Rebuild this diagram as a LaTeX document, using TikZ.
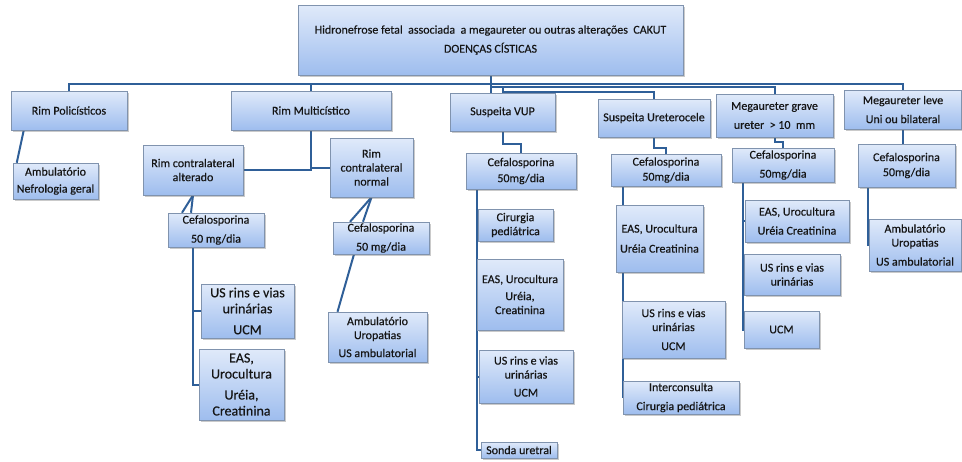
\documentclass[tikz,border=0pt]{standalone}
\usepackage{fontspec}
\setmainfont{Carlito}
\newfontfamily\boxfont[FakeBold=0.35]{Carlito}
\usetikzlibrary{shadows,calc}
\pgfdeclarelayer{background}
\pgfsetlayers{background,main}
\definecolor{boxtop}{HTML}{E0EAFA}
\definecolor{boxbot}{HTML}{9EBDEE}
\definecolor{boxline}{HTML}{8093AE}
\definecolor{conncol}{HTML}{2F5F98}
\definecolor{txt}{HTML}{151515}
\tikzset{
  box/.style={draw=boxline, line width=0.5pt, top color=boxtop, bottom color=boxbot,
    inner sep=0pt, align=center, text=txt, font=\boxfont\fontsize{12}{14}\selectfont,
    drop shadow={shadow xshift=1.5pt, shadow yshift=-1.5pt, opacity=0.35, fill=black!60}},
  bigbox/.style={box, font=\boxfont\fontsize{14}{16}\selectfont},
  conn/.style={draw=conncol, line width=2pt}
}
\begin{document}
\begin{tikzpicture}[x=1pt,y=-1pt]
\useasboundingbox (0,0) rectangle (962,461);
% level 0
\node[box, minimum width=385, minimum height=70] (top) at (490.5,40) {Hidronefrose fetal\ \ associada\ \ a megaureter ou outras alterações\ \ CAKUT\\[5pt]DOENÇAS CÍSTICAS};
% level 1
\node[box, minimum width=116, minimum height=39] (poly) at (69,110.5) {Rim Policísticos};
\node[box, minimum width=160, minimum height=39] (multi) at (311,110.5) {Rim Multicístico};
\node[box, minimum width=105, minimum height=38] (vup) at (502.5,112) {Suspeita VUP};
\node[box, minimum width=112, minimum height=38] (urc) at (654,118) {Suspeita Ureterocele};
\node[box, minimum width=117, minimum height=43] (grave) at (774.5,115.5) {Megaureter grave\\[5pt]ureter\ \ > 10\ \ mm};
\node[box, minimum width=117, minimum height=39] (leve) at (903,109.5) {Megaureter leve\\[5pt]Uni ou bilateral};
% column Rim Policisticos
\node[box, minimum width=85, minimum height=36] (amb1) at (55.5,181) {Ambulatório\\[3pt]Nefrologia geral};
% column Rim Multicistico
\node[box, minimum width=100, minimum height=50] (alt) at (193,170) {Rim contralateral\\alterado};
\node[box, minimum width=83, minimum height=59] (norm) at (371.5,167.5) {Rim\\contralateral\\normal};
\node[box, minimum width=96, minimum height=34] (cefL) at (216,230) {Cefalosporina\\[5pt]50 mg/dia};
\node[box, minimum width=96, minimum height=32] (cefM) at (381,238) {Cefalosporina\\[5pt]50 mg/dia};
\node[bigbox, minimum width=93, minimum height=54] (usL) at (247.5,311) {US rins e vias\\urinárias\\[5pt]UCM};
\node[bigbox, minimum width=85, minimum height=71] (easL) at (241.5,384.5) {EAS,\\Urocultura\\[5pt]Uréia,\\Creatinina};
\node[box, minimum width=99, minimum height=50] (ambM) at (377.5,337) {Ambulatório\\Uropatias\\[4pt]US ambulatorial};
% column VUP
\node[box, minimum width=110, minimum height=36] (cefV) at (521,171) {Cefalosporina\\[2pt]50mg/dia};
\node[box, minimum width=75, minimum height=32] (cir) at (515.5,225) {Cirurgia\\pediátrica};
\node[box, minimum width=86, minimum height=71] (easV) at (520,294.5) {EAS, Urocultura\\[3pt]Uréia,\\Creatinina};
\node[box, minimum width=94, minimum height=53] (usV) at (526,376.5) {US rins e vias\\urinárias\\[4pt]UCM};
\node[box, minimum width=76, minimum height=16] (sonda) at (519,450) {Sonda uretral};
% column Ureterocele
\node[box, minimum width=110, minimum height=32] (cefU) at (666,170) {Cefalosporina\\[1pt]50mg/dia};
\node[box, minimum width=87, minimum height=67] (easU) at (659.5,238.5) {EAS, Urocultura\\[6pt]Uréia Creatinina};
\node[box, minimum width=103, minimum height=57] (usU) at (673.5,329.5) {US rins e vias\\urinárias\\[5pt]UCM};
\node[box, minimum width=116, minimum height=33] (inter) at (681,397.5) {Interconsulta\\[5pt]Cirurgia pediátrica};
% column Megaureter grave
\node[box, minimum width=102, minimum height=34] (cefG) at (783,165) {Cefalosporina\\[5pt]50mg/dia};
\node[box, minimum width=104, minimum height=42] (easG) at (797,221) {EAS, Urocultura\\[5pt]Uréia Creatinina};
\node[box, minimum width=96, minimum height=41] (usG) at (792,274.5) {US rins e vias\\urinárias};
\node[box, minimum width=75, minimum height=37] (ucmG) at (781.5,329.5) {UCM};
% column Megaureter leve
\node[box, minimum width=97, minimum height=43] (cefLv) at (906.5,165.5) {Cefalosporina\\[1pt]50mg/dia};
\node[box, minimum width=92, minimum height=52] (ambLv) at (915,245) {Ambulatório\\Uropatias\\[5pt]US ambulatorial};
% connectors
\begin{pgfonlayer}{background}
\draw[conn] (top.south) -- ++(0,9) -| (poly.north);
\draw[conn] (top.south) -- ++(0,9) -| (multi.north);
\draw[conn] (top.south) -- (top.south |- vup.north);
\draw[conn] (top.south) -- ++(0,9) -| (leve.north);
\draw[conn] (top.south) -- ++(0,12) -| (grave.north);
\draw[conn] ($(top.south)+(12,12)$) -- ++(0,5) -| (urc.north);
\draw[conn] ([xshift=13pt]poly.south west) -- ([xshift=4pt]amb1.north west);
\draw[conn] (multi.south) |- (alt.east);
\draw[conn] (multi.south) |- (norm.west);
\draw[conn] (alt.south) -- ([xshift=-34pt]cefL.north);
\draw[conn] (alt.south) -- ([xshift=-25pt]cefL.north);
\draw[conn] (norm.south) -- ([xshift=-31pt]cefM.north);
\draw[conn] (norm.south) -- ([xshift=-18pt]cefM.north);
\draw[conn] ([xshift=25pt]cefL.south west) |- (easL.west);
\draw[conn] ([xshift=25pt]cefL.south west) |- (usL.west);
\draw[conn] ([xshift=-27pt]cefM.south) -- ([xshift=-40pt]ambM.north);
\draw[conn] (vup.south) -- ++(0,13) -| (cefV.north);
\draw[conn] ([xshift=11pt]cefV.south west) |- (sonda.west);
\draw[conn] ([xshift=11pt]cefV.south west) |- (cir.west);
\draw[conn] ([xshift=11pt]cefV.south west) |- (easV.west);
\draw[conn] ([xshift=11pt]cefV.south west) |- (usV.west);
\draw[conn] (urc.south) -- ++(0,11) -| (cefU.north);
\draw[conn] ([xshift=12pt]cefU.south west) |- (inter.west);
\draw[conn] (grave.south) -- ++(0,5) -| (cefG.north);
\draw[conn] ([xshift=11pt]cefG.south west) |- (ucmG.west);
\draw[conn] ([xshift=11pt]cefG.south west) |- (easG.west);
\draw[conn] ([xshift=11pt]cefG.south west) |- (usG.west);
\draw[conn] (leve.south) -- (leve.south |- cefLv.north);
\draw[conn] ([xshift=10pt]cefLv.south west) |- (ambLv.west);
\end{pgfonlayer}
\end{tikzpicture}
\end{document}
